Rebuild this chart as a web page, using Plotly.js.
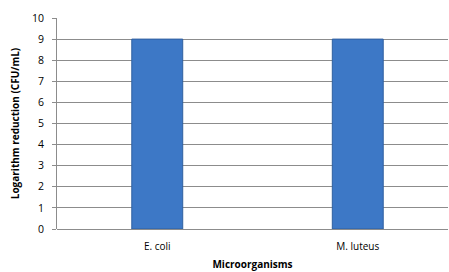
<!DOCTYPE html>
<html><head><meta charset="utf-8">
<script src="https://cdn.plot.ly/plotly-3.0.1.min.js"></script>
<style>html,body{margin:0;padding:0;background:#fff}</style>
</head><body><div id="chart" style="width:449px;height:272px"></div>
<script>
const categories = ["E. coli", "M. luteus"];
const logReduction = [9, 9];
const yTicks = [0,1,2,3,4,5,6,7,8,9,10];

const trace = {
  type: 'bar',
  x: categories,
  y: logReduction,
  width: 0.254,
  marker: {color: '#3D78C6', line: {color: '#2F5F9F', width: 1}},
  hoverinfo: 'none'
};
const font = {family: 'Open Sans, Noto Sans, sans-serif', color: '#000'};
const layout = {
  width: 449, height: 272,
  margin: {l: 57, r: 1, t: 18, b: 43, pad: 0},
  paper_bgcolor: '#fff', plot_bgcolor: '#fff',
  showlegend: false,
  font: font,
  xaxis: {
    type: 'category', range: [-0.5, 1.45],
    showgrid: false, zeroline: false,
    showline: false, ticks: '',
    ticklabelstandoff: 10,
    tickfont: {family: font.family, size: 10, color: '#000'},
    title: {text: '<b>Microorganisms</b>', font: {family: font.family, size: 10, color: '#000'}, standoff: 8}
  },
  yaxis: {
    range: [0, 10], tickvals: yTicks, ticktext: yTicks.map(String),
    showgrid: true, gridcolor: '#8C8C8C', gridwidth: 1,
    zeroline: true, zerolinecolor: '#8C8C8C', zerolinewidth: 1,
    showline: true, linecolor: '#8C8C8C', linewidth: 1,
    ticks: 'outside', ticklen: 4, tickcolor: '#8C8C8C',
    ticklabelstandoff: 6,
    tickfont: {family: font.family, size: 10.5, color: '#000'},
    title: {text: '<b>Logarithm reduction (CFU/mL)</b>', font: {family: font.family, size: 10, color: '#000'}, standoff: 10}
  }
};
Plotly.newPlot('chart', [trace], layout, {staticPlot: true, displayModeBar: false});
</script></body></html>
